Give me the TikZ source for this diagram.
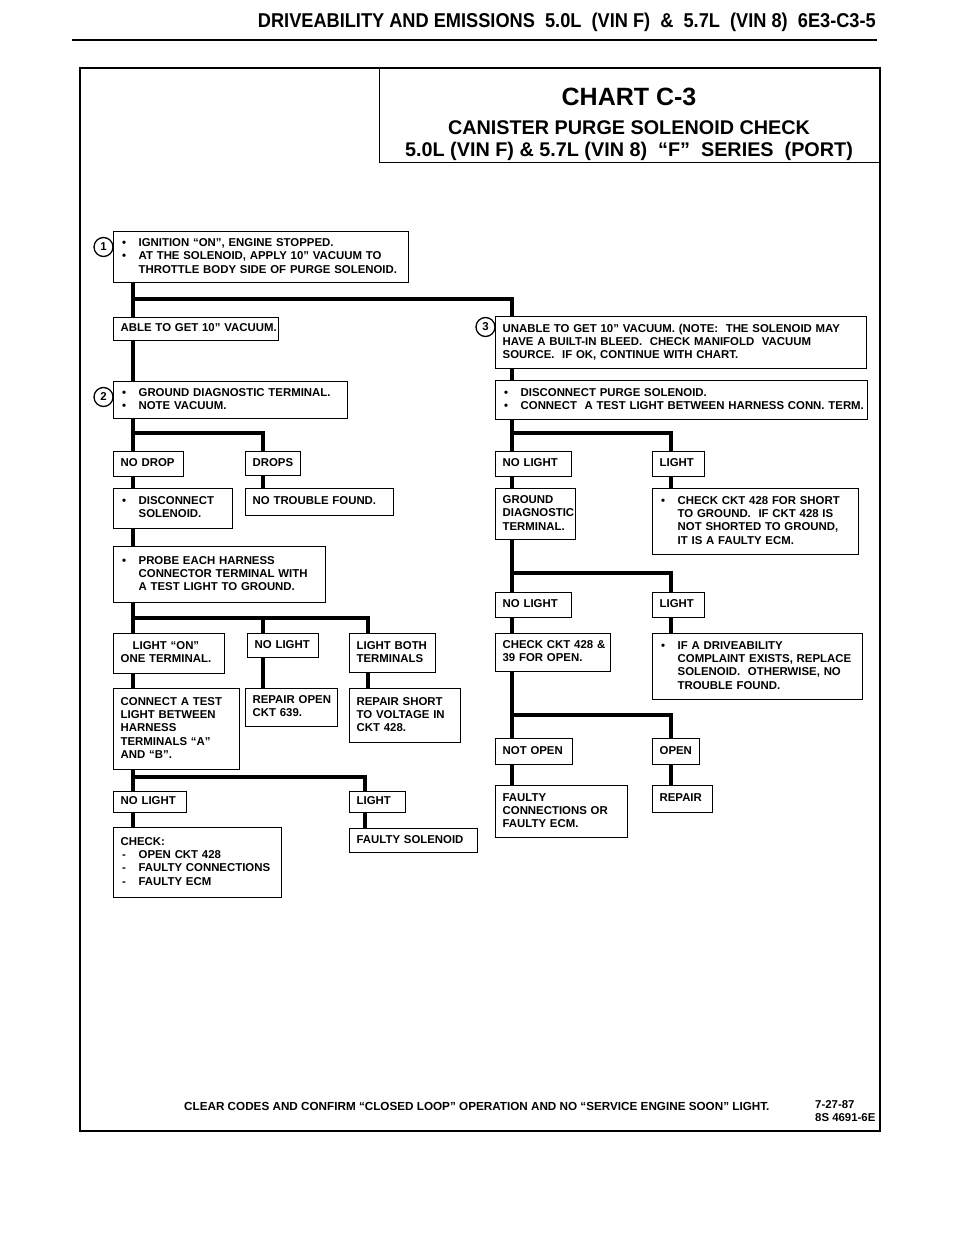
\documentclass[tikz,border=0pt]{standalone}
\usepackage{fontspec}
\setmainfont{Liberation Sans}
\newfontfamily\hdrfont{Liberation Sans}[FakeStretch=0.91]
\newcommand\chfont{\bfseries\fontsize{11.4}{13.3}\selectfont}
\newcommand\chl[1]{\begin{tabular}{@{}l@{}}#1\end{tabular}}
\newcommand\chc[1]{\begin{tabular}{@{}c@{}}#1\end{tabular}}
\newcommand\bu{\makebox[18pt][l]{\hspace{1.5pt}•}}
\newcommand\bi{\hspace*{18pt}}
\newcommand\da{\makebox[18pt][l]{\hspace{1.5pt}-}}
\newcommand\bx[6]{%
  \pgfmathsetmacro\bxw{#4-#2}\pgfmathsetmacro\bxh{#5-#3}\pgfmathsetmacro\bxt{#4-#2-14}%
  \node[box, minimum width=\bxw pt, minimum height=\bxh pt, text width=\bxt pt] (#1) at (#2,#3) {#6};}
\begin{document}
\begin{tikzpicture}[x=1pt,y=-1pt,
  box/.style={draw, line width=1.3pt, fill=white, inner xsep=7pt, inner ysep=2pt, align=left, font=\chfont, anchor=north west},
  conn/.style={line width=3.8pt, line join=miter},
  circ/.style={draw, circle, line width=1.3pt, minimum size=19pt, inner sep=0pt, font=\chfont, fill=white}]
\useasboundingbox (0,0) rectangle (960,1238);
% header
\node[anchor=base east, inner sep=0, font=\hdrfont\bfseries\fontsize{20}{22}\selectfont] (hdr) at (876,28)
  {DRIVEABILITY AND EMISSIONS\ \ 5.0L\ \ (VIN F)\ \ \&\ \ 5.7L\ \ (VIN 8)\ \ 6E3-C3-5};
\draw[line width=2.2pt] (72,40) -- (877,40);
% frame and title
\draw[line width=2.5pt] (80,68) rectangle (880,1131);
\node[draw, line width=1.4pt, minimum width=501pt, minimum height=94pt, anchor=north west, inner sep=0pt] (title) at (379,68) {};
\node[anchor=base, inner sep=0, font=\bfseries\fontsize{25}{28}\selectfont] (t1) at (629,106) {CHART C-3};
\node[anchor=base, inner sep=0, font=\bfseries\fontsize{19.8}{22}\selectfont] (t2) at (629,135) {CANISTER PURGE SOLENOID CHECK};
\node[anchor=base, inner sep=0, font=\bfseries\fontsize{19.8}{22}\selectfont] (t3) at (629,157) {5.0L (VIN F) \& 5.7L (VIN 8)\ \ “F”\ \ SERIES\ \ (PORT)};
% boxes
\bx{b1}{113}{231}{408}{282}{\chl{\bu IGNITION “ON”,\ ENGINE STOPPED.\\ \bu AT THE SOLENOID, APPLY 10” VACUUM TO\\ \bi THROTTLE BODY SIDE OF PURGE SOLENOID.}}
\bx{b2}{113}{317}{278}{340}{\chl{ABLE TO GET 10” VACUUM.}}
\bx{b3}{495}{316}{866}{368}{\chl{UNABLE TO GET 10” VACUUM. (NOTE:\ \ THE SOLENOID MAY\\ HAVE A BUILT-IN BLEED.\ \ CHECK MANIFOLD\ \ VACUUM\\ SOURCE.\ \ IF OK, CONTINUE WITH CHART.}}
\bx{b4}{113}{381}{347}{418}{\chl{\bu GROUND DIAGNOSTIC TERMINAL.\\ \bu NOTE VACUUM.}}
\bx{b5}{495}{380}{867}{419}{\chl{\bu DISCONNECT PURGE SOLENOID.\\ \bu CONNECT\ \ A TEST LIGHT BETWEEN HARNESS CONN. TERM.}}
\bx{b6}{113}{451}{183}{476}{\chl{NO DROP}}
\bx{b7}{245}{451}{300}{475}{\chl{DROPS}}
\bx{b8}{113}{488}{232}{528}{\chl{\bu DISCONNECT\\ \bi SOLENOID.}}
\bx{b9}{245}{488}{393}{515}{\chl{NO TROUBLE FOUND.}}
\bx{b10}{113}{546}{325}{602}{\chl{\bu PROBE EACH HARNESS\\ \bi CONNECTOR TERMINAL WITH\\ \bi A TEST LIGHT TO GROUND.}}
\bx{b11}{495}{451}{571}{476}{\chl{NO LIGHT}}
\bx{b12}{652}{451}{704}{476}{\chl{LIGHT}}
\bx{b13}{495}{488}{575}{539}{\chl{GROUND\\ DIAGNOSTIC\\ TERMINAL.}}
\bx{b14}{652}{488}{858}{554}{\chl{\bu CHECK CKT 428 FOR SHORT\\ \bi TO GROUND.\ \ IF CKT 428 IS\\ \bi NOT SHORTED TO GROUND,\\ \bi IT IS A FAULTY ECM.}}
\bx{b15}{495}{592}{571}{617}{\chl{NO LIGHT}}
\bx{b16}{652}{592}{704}{617}{\chl{LIGHT}}
\bx{b17}{495}{633}{610}{671}{\chl{CHECK CKT 428 \&\\ 39 FOR OPEN.}}
\bx{b18}{652}{633}{862}{699}{\chl{\bu IF A DRIVEABILITY\\ \bi COMPLAINT EXISTS, REPLACE\\ \bi SOLENOID.\ \ OTHERWISE, NO\\ \bi TROUBLE FOUND.}}
\bx{b19}{495}{738}{572}{764}{\chl{NOT OPEN}}
\bx{b20}{652}{738}{699}{764}{\chl{OPEN}}
\bx{b21}{495}{785}{627}{837}{\chl{FAULTY\\ CONNECTIONS OR\\ FAULTY ECM.}}
\bx{b22}{652}{785}{712}{812}{\chl{REPAIR}}
\bx{b23}{113}{633}{224}{673}{\centering\chc{LIGHT “ON”\\ ONE TERMINAL.}}
\bx{b24}{247}{633}{318}{657}{\chl{NO LIGHT}}
\bx{b25}{349}{633}{435}{672}{\chl{LIGHT BOTH\\ TERMINALS}}
\bx{b26}{113}{688}{239}{769}{\chl{CONNECT A TEST\\ LIGHT BETWEEN\\ HARNESS\\ TERMINALS “A”\\ AND “B”.}}
\bx{b27}{245}{688}{337}{726}{\chl{REPAIR OPEN\\ CKT 639.}}
\bx{b28}{349}{688}{460}{742}{\chl{REPAIR SHORT\\ TO VOLTAGE IN\\ CKT 428.}}
\bx{b29}{113}{791}{186}{812}{\chl{NO LIGHT}}
\bx{b30}{349}{791}{405}{812}{\chl{LIGHT}}
\bx{b31}{113}{827}{281}{897}{\chl{CHECK:\\ \da OPEN CKT 428\\ \da FAULTY CONNECTIONS\\ \da FAULTY ECM}}
\bx{b32}{349}{828}{477}{852}{\chl{FAULTY SOLENOID}}
% step circles
\node[circ] (c1) at (103.5,247) {1};
\node[circ] (c2) at (103.5,397) {2};
\node[circ] (c3) at (485.5,327) {3};
% connector coordinates
\coordinate (xL) at (133,0); \coordinate (xM) at (263,0); \coordinate (xN) at (368,0);
\coordinate (xP) at (365,0); \coordinate (xR) at (512,0); \coordinate (xS) at (671,0);
\coordinate (j1) at (133,299); \coordinate (j2) at (133,433); \coordinate (j3) at (512,433);
\coordinate (j4) at (512,573); \coordinate (j5) at (512,715); \coordinate (j6) at (133,618);
\coordinate (j7) at (133,777);
% connectors
\draw[conn] (b1.south-|xL) -- (b2.north-|xL);
\draw[conn] (j1) -| (b3.north-|xR);
\draw[conn] (b2.south-|xL) -- (b4.north-|xL);
\draw[conn] (b3.south-|xR) -- (b5.north-|xR);
\draw[conn] (b4.south-|xL) -- (b6.north-|xL);
\draw[conn] (j2) -| (b7.north-|xM);
\draw[conn] (b6.south-|xL) -- (b8.north-|xL);
\draw[conn] (b8.south-|xL) -- (b10.north-|xL);
\draw[conn] (b7.south-|xM) -- (b9.north-|xM);
\draw[conn] (b5.south-|xR) -- (b11.north-|xR);
\draw[conn] (j3) -| (b12.north-|xS);
\draw[conn] (b11.south-|xR) -- (b13.north-|xR);
\draw[conn] (b12.south-|xS) -- (b14.north-|xS);
\draw[conn] (b13.south-|xR) -- (b15.north-|xR);
\draw[conn] (j4) -| (b16.north-|xS);
\draw[conn] (b15.south-|xR) -- (b17.north-|xR);
\draw[conn] (b16.south-|xS) -- (b18.north-|xS);
\draw[conn] (b17.south-|xR) -- (b19.north-|xR);
\draw[conn] (j5) -| (b20.north-|xS);
\draw[conn] (b19.south-|xR) -- (b21.north-|xR);
\draw[conn] (b20.south-|xS) -- (b22.north-|xS);
\draw[conn] (b10.south-|xL) -- (b23.north-|xL);
\draw[conn] (j6) -| (b25.north-|xN);
\draw[conn] (j6-|xM) -- (b24.north-|xM);
\draw[conn] (b23.south-|xL) -- (b26.north-|xL);
\draw[conn] (b24.south-|xM) -- (b27.north-|xM);
\draw[conn] (b25.south-|xN) -- (b28.north-|xN);
\draw[conn] (b26.south-|xL) -- (b29.north-|xL);
\draw[conn] (j7) -| (b30.north-|xP);
\draw[conn] (b29.south-|xL) -- (b31.north-|xL);
\draw[conn] (b30.south-|xP) -- (b32.north-|xP);
% footer
\node[anchor=base west, inner sep=0, font=\bfseries\fontsize{11.7}{14}\selectfont] (foot) at (184,1110)
  {CLEAR CODES AND CONFIRM “CLOSED LOOP” OPERATION AND NO “SERVICE ENGINE SOON” LIGHT.};
\node[anchor=base west, inner sep=0, font=\chfont] (date) at (815,1108) {7-27-87};
\node[anchor=base west, inner sep=0, font=\chfont] (code) at (815,1121) {8S 4691-6E};
\end{tikzpicture}
\end{document}
